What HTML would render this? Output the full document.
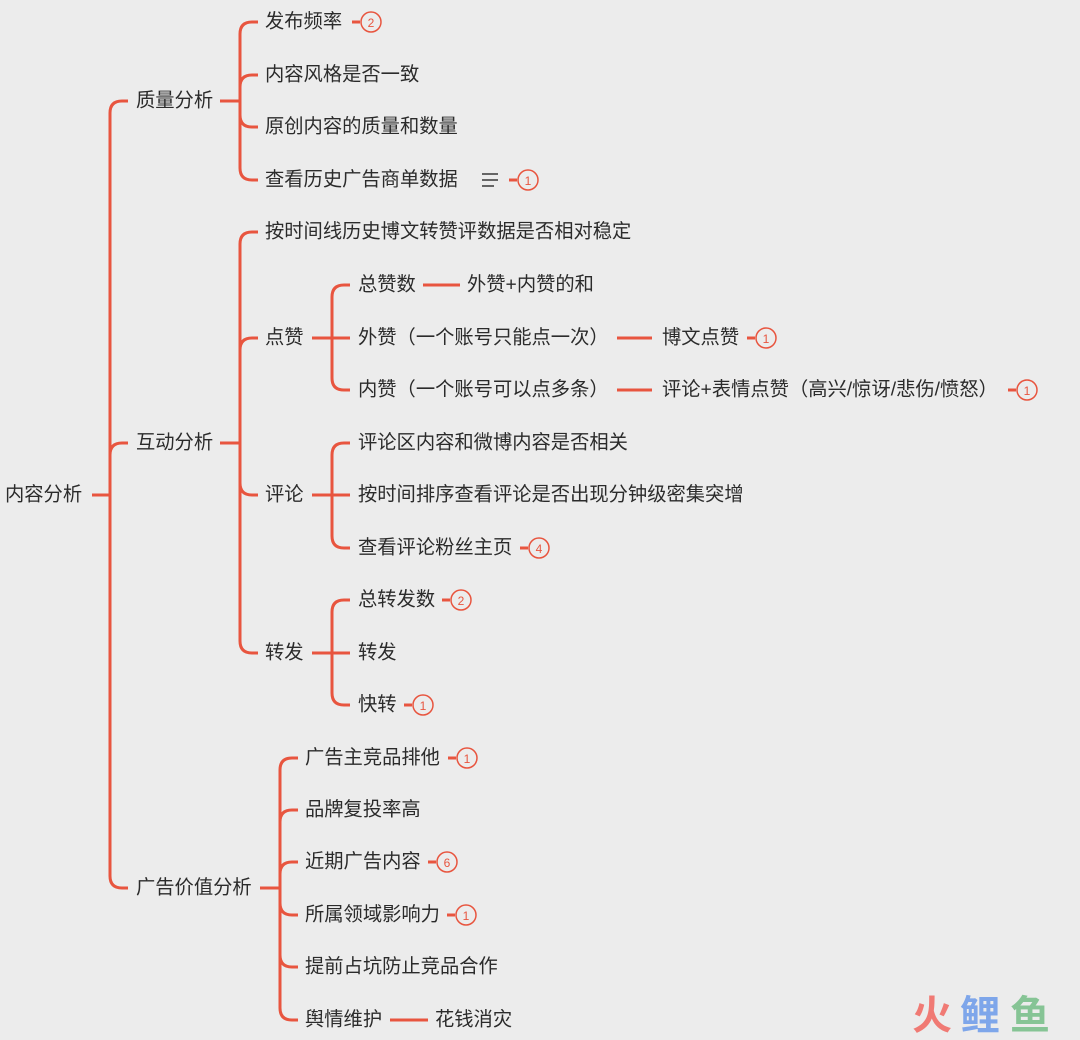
<!DOCTYPE html>
<html><head><meta charset="utf-8">
<style>
html,body{margin:0;padding:0;background:#ececec;}
svg{display:block;}
text{font-family:"Liberation Sans","Noto Sans CJK SC",sans-serif;font-size:19.3px;fill:#2b2b2b;dominant-baseline:central;}
.b{font-size:12px;fill:#e8553f;text-anchor:middle;}
</style></head>
<body>
<svg id="s" width="1080" height="1040" xmlns="http://www.w3.org/2000/svg"></svg>
<script>
var s=document.getElementById('s'),NS='http://www.w3.org/2000/svg',C='#e8553f';
function el(n,a,t){var e=document.createElementNS(NS,n);for(var k in a)e.setAttribute(k,a[k]);if(t!==undefined)e.textContent=t;s.appendChild(e);return e;}
function ln(x1,y1,x2,y2,c,w){el('line',{x1:x1,y1:y1,x2:x2,y2:y2,stroke:c||C,'stroke-width':w||3});}
function tx(x,y,t){el('text',{x:x,y:y},t);}
function badge(x,y,n){ln(x,y,x+8,y);el('circle',{cx:x+19,cy:y,r:10,fill:'none',stroke:C,'stroke-width':1.5});el('text',{x:x+19,y:y+1,'class':'b'},n);}
function branch(sx,ex,vx,py,ys,cx){
  ln(sx,py,vx,py);var r=12;
  ys.forEach(function(y){
    var d;
    if(Math.abs(y-py)<1){d='M'+vx+' '+py+' H'+cx;}
    else{var sg=y>py?1:-1;d='M'+vx+' '+py+' V'+(y-sg*r)+' Q'+vx+' '+y+' '+(vx+r)+' '+y+' H'+cx;}
    el('path',{d:d,fill:'none',stroke:C,'stroke-width':3});
  });
}
tx(5,495,'内容分析');
branch(92,0,110,495,[101,443,888],128);
tx(136,101,'质量分析');tx(136,443,'互动分析');tx(136,888,'广告价值分析');
branch(220,0,240,101,[22,75,127,180],258);
tx(265,22,'发布频率');badge(352,22,'2');
tx(265,75,'内容风格是否一致');
tx(265,127,'原创内容的质量和数量');
tx(265,180,'查看历史广告商单数据');
ln(482,174,498,174,'#444',1.6);ln(482,180,498,180,'#444',1.6);ln(482,186,494,186,'#444',1.6);
badge(509,180,'1');
branch(220,0,240,443,[232,338,495,653],258);
tx(265,232,'按时间线历史博文转赞评数据是否相对稳定');
tx(265,338,'点赞');tx(265,495,'评论');tx(265,653,'转发');
branch(312,0,332,338,[285,338,390],350);
tx(358,285,'总赞数');ln(423,285,460,285);tx(467,285,'外赞+内赞的和');
tx(358,338,'外赞（一个账号只能点一次）');ln(617,338,652,338);tx(662,338,'博文点赞');badge(747,338,'1');
tx(358,390,'内赞（一个账号可以点多条）');ln(617,390,652,390);tx(662,390,'评论+表情点赞（高兴/惊讶/悲伤/愤怒）');badge(1008,390,'1');
branch(312,0,332,495,[443,495,548],350);
tx(358,443,'评论区内容和微博内容是否相关');
tx(358,495,'按时间排序查看评论是否出现分钟级密集突增');
tx(358,548,'查看评论粉丝主页');badge(520,548,'4');
branch(312,0,332,653,[600,653,705],350);
tx(358,600,'总转发数');badge(442,600,'2');
tx(358,653,'转发');
tx(358,705,'快转');badge(404,705,'1');
branch(260,0,280,888,[758,810,862,915,967,1020],298);
tx(305,758,'广告主竞品排他');badge(448,758,'1');
tx(305,810,'品牌复投率高');
tx(305,862,'近期广告内容');badge(428,862,'6');
tx(305,915,'所属领域影响力');badge(447,915,'1');
tx(305,967,'提前占坑防止竞品合作');
tx(305,1020,'舆情维护');ln(390,1020,428,1020);tx(435,1020,'花钱消灾');
el('text',{x:912,y:1016,style:'font-size:40px;font-weight:bold;fill:#f07a74'},'火');
el('text',{x:960,y:1016,style:'font-size:40px;font-weight:bold;fill:#7ea6ea'},'鲤');
el('text',{x:1010,y:1016,style:'font-size:40px;font-weight:bold;fill:#86c495'},'鱼');
</script>
</body></html>
